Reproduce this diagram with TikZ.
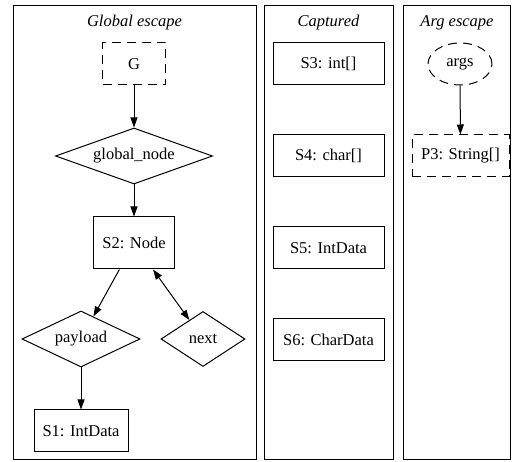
\documentclass[tikz,border=0pt]{standalone}
\usepackage{fontspec}
\setmainfont{Liberation Serif}
\usetikzlibrary{shapes.geometric,arrows.meta}
\begin{document}
\begin{tikzpicture}[x=1pt,y=-1pt,
  every node/.style={font=\fontsize{16.5}{19}\selectfont, inner sep=0pt},
  cluster/.style={draw, line width=1pt},
  title/.style={font=\fontsize{16.5}{19}\selectfont\itshape},
  box/.style={draw, line width=1pt, rectangle, minimum width=#1, minimum height=42pt},
  dbox/.style={box=#1, dash pattern=on 9pt off 6pt},
  dia/.style={draw, line width=1pt, diamond, aspect=#1},
  edge/.style={draw, line width=1pt, -{Triangle[length=10pt,width=7pt]}},
  bedge/.style={draw, line width=1pt, {Triangle[length=10pt,width=7pt]}-{Triangle[length=10pt,width=7pt]}}
]
\useasboundingbox (0,0) rectangle (512,462);
% clusters
\draw[cluster] (13,6) rectangle (256,460);
\draw[cluster] (264,6) rectangle (393,460);
\draw[cluster] (403,6) rectangle (510,460);
\node[title] (t1) at (134.5,23) {Global escape};
\node[title] (t2) at (328.5,23) {Captured};
\node[title] (t3) at (457,23) {Arg escape};
% global escape
\node[dbox=63pt] (G) at (134,64) {G};
\node[dia=2.8, minimum width=157pt, minimum height=56pt] (gn) at (134,156) {global\_node};
\node[box=81pt, minimum height=52pt] (s2) at (134,243) {S2: Node};
\node[dia=2.1, minimum width=118pt, minimum height=56pt] (pl) at (81,339) {payload};
\node[dia=1.5, minimum width=84pt, minimum height=55pt] (nx) at (203,339) {next};
\node[box=94pt] (s1) at (81,431) {S1: IntData};
\path[edge] (G) -- (gn);
\path[edge] (gn) -- (s2);
\path[edge] (s2) -- (pl);
\path[bedge] (s2) -- (nx);
\path[edge] (pl) -- (s1);
% captured
\node[box=111pt] (s3) at (328.5,64) {S3: int[]};
\node[box=111pt] (s4) at (328.5,156) {S4: char[]};
\node[box=111pt] (s5) at (328.5,248) {S5: IntData};
\node[box=111pt] (s6) at (328.5,339.5) {S6: CharData};
% arg escape
\node[draw, line width=1pt, ellipse, dash pattern=on 9pt off 6pt, minimum width=64pt, minimum height=42pt] (args) at (460,64) {args};
\node[dbox=97pt] (p3) at (460.5,156) {P3: String[]};
\path[edge] (args) -- (p3);
\end{tikzpicture}
\end{document}
